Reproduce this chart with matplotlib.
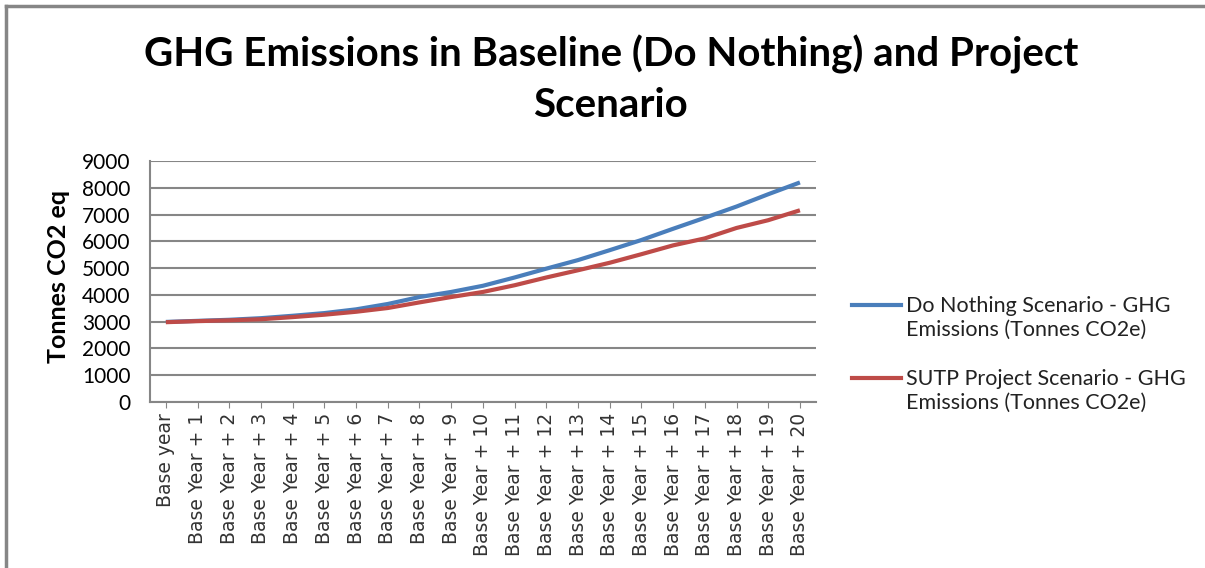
import matplotlib.pyplot as plt
from matplotlib.lines import Line2D

# GHG emissions per year, tonnes CO2e
years = ['Base year'] + ['Base Year + %d' % i for i in range(1, 21)]
do_nothing = [2990, 3030, 3070, 3130, 3220, 3320, 3460, 3660, 3920, 4110, 4340,
              4650, 4980, 5300, 5670, 6050, 6470, 6880, 7300, 7760, 8200]
sutp_project = [2980, 3020, 3050, 3090, 3170, 3260, 3370, 3510, 3720, 3920, 4110,
                4360, 4650, 4920, 5200, 5520, 5850, 6110, 6500, 6790, 7160]
series_names = ['Do Nothing Scenario - GHG\nEmissions (Tonnes CO2e)',
                'SUTP Project Scenario - GHG\nEmissions (Tonnes CO2e)']
colors = ['#4A7EBB', '#BE4B48']

plt.rcParams['font.family'] = ['Lato', 'DejaVu Sans']

fig = plt.figure(figsize=(12.05, 5.68), dpi=100)
ax = fig.add_axes([0.1245, 0.2923, 0.5525, 0.4242])

x = range(len(years))
for vals, c in zip([do_nothing, sutp_project], colors):
    ax.plot(x, vals, color=c, lw=3, solid_capstyle='butt')

ax.set_xlim(-0.5, len(years) - 0.5)
ax.set_ylim(0, 9000)
ax.set_yticks(range(0, 9001, 1000))
ax.yaxis.grid(True, color='#868686', lw=1.5)
ax.set_axisbelow(True)
ax.tick_params(axis='y', length=0, pad=14, labelsize=15)
ax.set_xticks(list(x))
ax.set_xticklabels(years, rotation=90, fontsize=13.5, color='#333333',
                   family='DejaVu Sans')
ax.tick_params(axis='x', length=4, color='#868686', pad=4)

for side in ['top', 'right']:
    ax.spines[side].set_visible(False)
for side in ['left', 'bottom']:
    ax.spines[side].set_color('#868686')
    ax.spines[side].set_linewidth(1.5)

ax.set_ylabel('Tonnes CO2 eq', fontsize=18, fontweight='bold')
ax.yaxis.set_label_coords(-0.12, 0.52)

fig.text(0.507, 0.905, 'GHG Emissions in Baseline (Do Nothing) and Project',
         ha='center', va='center', fontsize=29, fontweight='bold')
fig.text(0.507, 0.815, 'Scenario', ha='center', va='center',
         fontsize=29, fontweight='bold')

# legend: line sits on the first text row of each entry
for i, (name, c) in enumerate(zip(series_names, colors)):
    y0 = 1 - (305 + 73 * i) / 568
    fig.add_artist(Line2D([852 / 1205, 901 / 1205], [y0, y0],
                          transform=fig.transFigure, color=c, lw=3))
    fig.text(906 / 1205, y0 + 0.016, name, ha='left', va='top',
             fontsize=15.5, color='#222222', linespacing=1.25)

# outer chart frame
fig.add_artist(Line2D([0.005, 0.005], [0, 0.99], transform=fig.transFigure,
                      color='#868686', lw=2.5))
fig.add_artist(Line2D([0.005, 1.0], [0.99, 0.99], transform=fig.transFigure,
                      color='#868686', lw=2.5))

fig.savefig('out.png', dpi=100)
